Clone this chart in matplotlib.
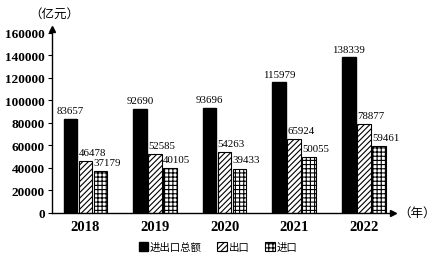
import numpy as np
import matplotlib.pyplot as plt

plt.rcParams['hatch.linewidth'] = 0.8

years = ['2018', '2019', '2020', '2021', '2022']
total = [83657, 92690, 93696, 115979, 138339]
export = [46478, 52585, 54263, 65924, 78877]
imports = [37179, 40105, 39433, 50055, 59461]
yticks = [0, 20000, 40000, 60000, 80000, 100000, 120000, 140000, 160000]

num_font = dict(family='Liberation Serif')
cjk = ['Noto Sans CJK SC', 'DejaVu Sans']

fig = plt.figure(figsize=(4.34, 2.55), dpi=100)
ax = fig.add_axes([52 / 434, 1 - 214 / 255, 341 / 434, 184 / 255])

x = np.arange(len(years))
w = 0.195
off = 0.216
b1 = ax.bar(x - off, total, w, color='black', edgecolor='black', label='进出口总额')
b2 = ax.bar(x, export, w, color='white', edgecolor='black', hatch='//////', lw=0.8, label='出口')
b3 = ax.bar(x + off, imports, w, color='white', edgecolor='black', hatch='++++', lw=0.8, label='进口')

# total labels centred, export/import labels start at the bar's left edge
for rect, v in zip(b1, total):
    ax.annotate(str(v), (rect.get_x() + rect.get_width() / 2, v), xytext=(0, 2.5),
                textcoords='offset points', ha='center', va='bottom', fontsize=7.8, **num_font)
for bars, vals in [(b2, export), (b3, imports)]:
    for rect, v in zip(bars, vals):
        ax.annotate(str(v), (rect.get_x(), v), xytext=(0, 3),
                    textcoords='offset points', ha='left', va='bottom', fontsize=7.8, **num_font)

ax.set_xlim(-0.48, 4.42)
ax.set_ylim(0, 163500)
ax.set_yticks(yticks)
ax.set_yticklabels([str(t) for t in yticks], fontsize=9.5, fontweight='bold', **num_font)
ax.set_xticks(x)
ax.set_xticklabels(years, fontsize=10.5, fontweight='bold', **num_font)
ax.tick_params(axis='x', length=0, pad=5)
ax.tick_params(axis='y', length=3, width=0.8, pad=2)

for s in ['top', 'right']:
    ax.spines[s].set_visible(False)
for s in ['left', 'bottom']:
    ax.spines[s].set_linewidth(1.0)

# axis arrows
ax.plot(1, 0, '>k', transform=ax.transAxes, clip_on=False, ms=4)
ax.plot(0, 1, '^k', transform=ax.transAxes, clip_on=False, ms=4)

fig.text(29 / 434, 1 - 14 / 255, '（亿元）', fontsize=9, family=cjk, va='center')
fig.text(398 / 434, 1 - 213 / 255, '（年）', fontsize=9, family=cjk, va='center')

fig.legend(handles=[b1, b2, b3], loc='center', bbox_to_anchor=(218 / 434, 1 - 248 / 255),
           ncol=3, frameon=False, prop={'family': cjk, 'size': 7.5},
           handlelength=0.9, handleheight=0.9, handletextpad=0.2, columnspacing=1.5)

fig.savefig('out.png', dpi=100)
